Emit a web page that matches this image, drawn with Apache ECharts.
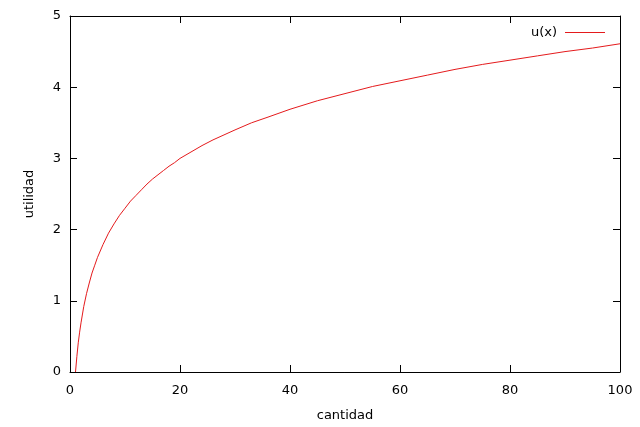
<!DOCTYPE html>
<html><head><meta charset="utf-8">
<script src="https://cdn.jsdelivr.net/npm/echarts@6/dist/echarts.min.js"></script>
<style>html,body{margin:0;padding:0;background:#fff}#c{width:640px;height:427px}</style>
</head><body><div id="c"></div>
<script>
const xValues = [1, 1.25, 1.5, 1.75, 2, 2.5, 3, 3.5, 4, 4.5, 5, 6, 7, 8, 9, 10, 11, 12, 13, 14, 15, 16, 17, 18, 19, 20, 22, 24, 26, 28, 30, 33, 36, 40, 45, 50, 55, 60, 65, 70, 75, 80, 85, 90, 95, 100];
const uValues = [0, 0.22, 0.41, 0.56, 0.69, 0.92, 1.10, 1.25, 1.39, 1.50, 1.61, 1.79, 1.95, 2.08, 2.20, 2.30, 2.40, 2.48, 2.56, 2.64, 2.71, 2.77, 2.83, 2.89, 2.94, 3.00, 3.09, 3.18, 3.26, 3.33, 3.40, 3.50, 3.58, 3.69, 3.81, 3.91, 4.01, 4.09, 4.17, 4.25, 4.32, 4.38, 4.44, 4.50, 4.55, 4.61];
const xTicks = [0, 20, 40, 60, 80, 100];
const yTicks = [0, 1, 2, 3, 4, 5];
const seriesName = 'u(x)';

const font = 'DejaVu Sans';
const fs = 13;
const axisBase = {
  axisLine: {show: true, onZero: false, lineStyle: {color: '#000', width: 1}},
  axisTick: {show: true, inside: true, length: 7, lineStyle: {color: '#000'}},
  splitLine: {show: false},
  axisLabel: {color: '#000', fontFamily: font, fontSize: fs},
};
const chart = echarts.init(document.getElementById('c'));
chart.setOption({
  animation: false,
  grid: {left: 70, right: 20, top: 16, bottom: 54},
  legend: {
    data: [seriesName], right: 30, top: 21, align: 'right',
    icon: 'rect', itemWidth: 40, itemHeight: 1, itemGap: 8,
    textStyle: {fontFamily: font, fontSize: fs, color: '#000', padding: [0, 3, 0, 0]}
  },
  xAxis: [
    Object.assign({}, axisBase, {type: 'value', min: 0, max: 100, interval: 20, position: 'bottom',
      name: 'cantidad', nameLocation: 'middle', nameGap: 37,
      nameTextStyle: {fontFamily: font, fontSize: fs, color: '#000'},
      axisLabel: Object.assign({}, axisBase.axisLabel, {margin: 12, formatter: v => xTicks.includes(v) ? String(v) : ''})}),
    Object.assign({}, axisBase, {type: 'value', min: 0, max: 100, interval: 20, position: 'top',
      axisLabel: {show: false}})
  ],
  yAxis: [
    Object.assign({}, axisBase, {type: 'value', min: 0, max: 5, interval: 1, position: 'left',
      name: 'utilidad', nameLocation: 'middle', nameGap: 34, nameRotate: 90,
      nameTextStyle: {fontFamily: font, fontSize: fs, color: '#000'},
      axisLabel: Object.assign({}, axisBase.axisLabel, {margin: 9, formatter: v => yTicks.includes(v) ? String(v) : ''})}),
    Object.assign({}, axisBase, {type: 'value', min: 0, max: 5, interval: 1, position: 'right',
      axisLabel: {show: false}})
  ],
  series: [{
    name: seriesName, type: 'line', showSymbol: false, smooth: false,
    data: xValues.map((x, i) => [x, uValues[i]]),
    lineStyle: {color: '#e41a1c', width: 1}, itemStyle: {color: '#e41a1c'},
    xAxisIndex: 0, yAxisIndex: 0
  }]
});
</script></body></html>
